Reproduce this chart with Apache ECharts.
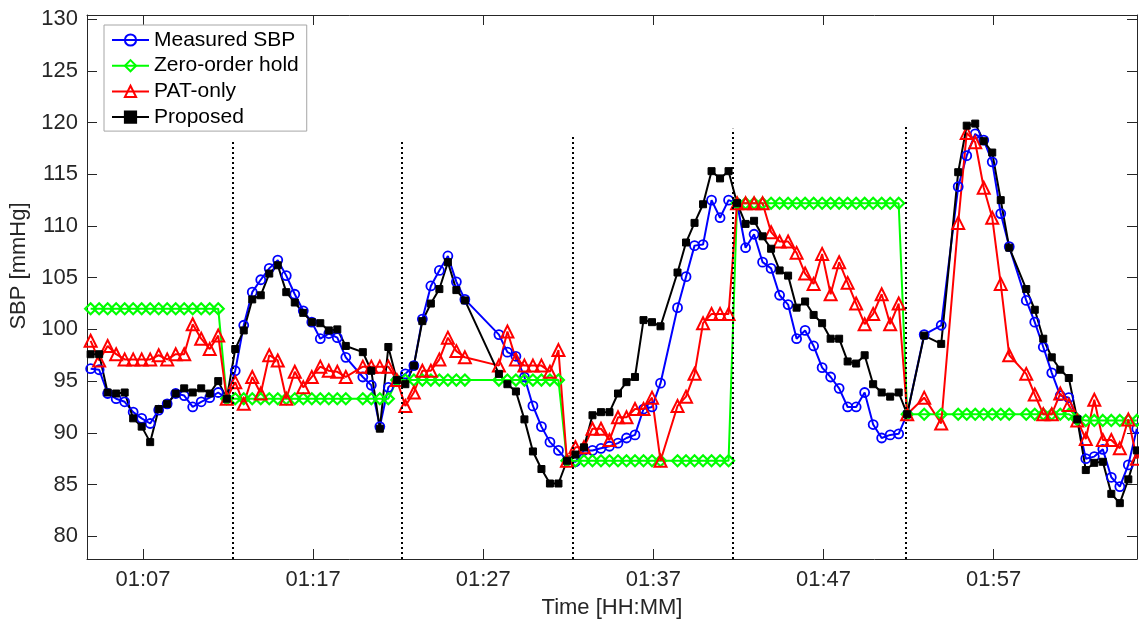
<!DOCTYPE html>
<html>
<head>
<meta charset="utf-8">
<script src="https://cdn.jsdelivr.net/npm/echarts@6/dist/echarts.min.js"></script>
<style>html,body{margin:0;padding:0;background:#fff;}#chart{width:1139px;height:628px;}</style>
</head>
<body>
<div id="chart"></div>
<script>
// sample times, minutes after 01:00
const times = [
  3.92,4.42,4.92,5.42,5.92,6.42,6.92,7.42,7.92,8.42,8.92,9.42,9.92,10.42,10.92,11.42,11.92,
  12.42,12.92,13.42,13.92,14.42,14.92,15.42,15.92,16.42,16.92,17.42,17.92,18.42,18.92,
  19.92,20.42,20.92,21.42,21.92,22.42,22.92,23.42,23.92,24.42,24.92,25.42,25.92,
  27.92,28.42,28.92,29.42,29.92,30.42,30.92,31.42,31.92,32.42,32.92,33.42,33.92,34.42,34.92,35.42,35.92,36.42,36.92,37.42,
  38.42,38.92,39.42,39.92,40.42,40.92,41.42,41.92,42.42,42.92,43.42,43.92,44.42,44.92,45.42,45.92,46.42,46.92,47.42,47.92,48.42,48.92,49.42,49.92,50.42,50.92,51.42,51.92,
  52.92,53.92,
  54.92,55.42,55.92,56.42,56.92,57.42,57.92,
  58.92,59.42,59.92,60.42,60.92,61.42,61.92,62.42,62.92,63.42,63.92,64.42,64.92,65.42
];
const measuredSBP = [
  96.2,96.1,93.8,93.3,93.0,92.0,91.4,90.9,92.2,92.8,93.8,93.6,92.5,93.0,93.4,93.9,93.3,
  96.0,100.4,103.6,104.8,105.9,106.7,105.2,103.4,101.8,100.7,99.1,99.6,99.2,97.3,
  95.4,94.6,90.6,94.4,95.1,95.7,96.5,101.0,104.2,105.7,107.1,104.6,102.9,
  99.5,97.8,97.4,95.4,92.6,90.6,89.1,88.3,87.3,87.2,88.3,88.3,88.5,88.7,89.0,89.5,89.8,92.3,92.5,94.8,
  102.1,105.1,108.1,108.2,112.5,110.8,112.5,112.2,107.9,109.2,106.5,105.9,103.3,102.4,99.1,99.9,98.4,96.3,95.4,94.3,92.5,92.5,93.9,90.8,89.5,89.8,89.9,91.8,
  99.5,100.4,
  113.8,116.8,118.9,118.3,116.2,111.2,108.0,
  102.8,100.7,98.3,95.8,93.6,93.4,91.3,87.5,87.7,88.4,85.7,84.8,86.9,90.4
];
const zeroOrderHold = [
  102,102,102,102,102,102,102,102,102,102,102,102,102,102,102,102,93.3,
  93.3,93.3,93.3,93.3,93.3,93.3,93.3,93.3,93.3,93.3,93.3,93.3,93.3,93.3,
  93.3,93.3,93.3,93.3,95.1,95.1,95.1,95.1,95.1,95.1,95.1,95.1,95.1,
  95.1,95.1,95.1,95.1,95.1,95.1,95.1,95.1,87.3,87.3,87.3,87.3,87.3,87.3,87.3,87.3,87.3,87.3,87.3,87.3,
  87.3,87.3,87.3,87.3,87.3,87.3,87.3,112.2,112.2,112.2,112.2,112.2,112.2,112.2,112.2,112.2,112.2,112.2,112.2,112.2,112.2,112.2,112.2,112.2,112.2,112.2,112.2,91.8,
  91.8,91.8,
  91.8,91.8,91.8,91.8,91.8,91.8,91.8,
  91.8,91.8,91.8,91.8,91.8,91.8,91.3,91.2,91.2,91.2,91.2,91.2,91.2,91.2
];
const patOnly = [
  98.9,97.0,98.4,97.6,97.1,97.1,97.1,97.1,97.5,97.1,97.6,97.6,100.5,99.1,98.1,99.4,93.3,
  94.9,92.8,95.4,93.8,97.5,97.0,93.3,95.9,94.4,95.4,96.4,96.0,95.9,95.4,
  96.4,96.4,96.4,96.4,95.1,92.6,93.9,96.0,96.0,97.1,99.2,97.9,97.3,
  96.5,99.8,97.1,96.5,96.5,96.5,95.9,98.0,87.3,88.6,88.6,90.4,90.4,89.3,91.5,91.5,92.3,92.3,93.4,87.3,
  92.6,93.5,95.7,100.6,101.5,101.5,101.5,112.2,112.2,112.2,112.2,109.4,108.5,108.5,107.4,105.4,104.4,107.3,103.4,106.5,104.5,102.5,100.5,101.5,103.4,100.5,102.5,91.8,
  93.4,90.9,
  110.3,119.0,118.1,113.7,110.8,104.4,97.5,
  95.7,93.7,91.8,91.8,93.8,92.7,91.2,89.4,93.2,89.3,89.3,88.5,91.3,87.5
];
const proposed = [
  97.6,97.6,93.9,93.8,93.9,91.4,90.6,89.1,92.3,92.8,93.8,94.3,93.9,94.3,93.8,95.0,93.3,
  98.1,99.9,102.9,103.3,105.4,106.2,103.6,102.6,101.6,100.7,100.6,99.9,100.0,98.4,
  97.8,96.0,90.4,98.3,95.1,94.7,96.5,100.8,102.5,103.9,106.5,103.8,102.8,
  95.7,94.7,94.0,91.3,88.2,86.5,85.1,85.1,87.3,87.9,88.6,91.7,92.0,92.0,93.8,94.9,95.4,100.9,100.7,100.3,
  105.5,108.4,110.3,112.1,115.3,114.6,115.3,112.2,110.2,110.5,109.0,107.8,105.7,105.2,102.1,102.7,101.4,100.6,99.1,99.1,96.9,96.7,97.5,94.7,93.9,93.5,93.9,91.8,
  99.4,98.6,
  115.2,119.7,119.9,118.2,117.1,112.5,107.9,
  103.9,101.9,99.1,97.3,96.1,95.3,91.3,86.4,87.1,87.2,84.1,83.2,85.5,88.3
];
// calibration instants (dotted lines), minutes after 01:00, and their upper ends
const calibTimes = [12.27, 22.22, 32.24, 41.69, 51.82];
const calibTops = [118.2, 118.2, 118.9, 119.4, 119.8];
const xTickMinutes = [7, 17, 27, 37, 47, 57];
const yTicks = [80, 85, 90, 95, 100, 105, 110, 115, 120, 125, 130];

const X_MIN = 3.706, X_MAX = 65.43, Y_MIN = 77.8, Y_MAX = 130.4;
const AX = '#262626';
const FONT = '"Liberation Sans", Arial, sans-serif';

function fmtTime(v) {
  const h = 1 + Math.floor(v / 60);
  const m = Math.round(v % 60);
  return String(h).padStart(2, '0') + ':' + String(m).padStart(2, '0');
}
function pairs(vals) { return times.map((t, i) => [t, vals[i]]); }

const chart = echarts.init(document.getElementById('chart'), null, {renderer: 'canvas'});

function mkSeries(name, vals, color, symbol, size, fill, bw) {
  return {
    name: name, type: 'line', data: pairs(vals),
    xAxisIndex: 0, yAxisIndex: 0,
    symbol: symbol, symbolSize: size, showAllSymbol: true,
    lineStyle: {color: color, width: 2},
    itemStyle: {color: fill ? color : 'rgba(255,255,255,0)', borderColor: color, borderWidth: bw},
    emphasis: {disabled: true},
    animation: false
  };
}

const option = {
  animation: false,
  backgroundColor: '#fff',
  textStyle: {fontFamily: FONT},
  grid: {left: 87, right: 2, top: 15, bottom: 69, containLabel: false},
  legend: {
    orient: 'vertical', left: 104, top: 25,
    padding: [4, 8, 3, 7],
    itemWidth: 37, itemHeight: 14, itemGap: 3.7,
    backgroundColor: '#fff', borderColor: '#a6a6a6', borderWidth: 1,
    textStyle: {fontSize: 21, color: '#000', fontFamily: FONT, lineHeight: 22},
    data: ['Measured SBP', 'Zero-order hold', 'PAT-only', 'Proposed']
  },
  xAxis: [{
    type: 'value', position: 'bottom', min: X_MIN, max: X_MAX,
    name: 'Time [HH:MM]', nameLocation: 'middle', nameGap: 38,
    nameTextStyle: {fontSize: 22, color: AX, fontFamily: FONT},
    axisLine: {show: true, lineStyle: {color: AX, width: 1}},
    axisTick: {show: true, inside: true, length: 10, customValues: xTickMinutes, lineStyle: {color: AX}},
    axisLabel: {show: true, customValues: xTickMinutes, formatter: fmtTime, fontSize: 22, color: AX, margin: 10, fontFamily: FONT},
    splitLine: {show: false}
  }, {
    type: 'value', position: 'top', min: X_MIN, max: X_MAX,
    axisLine: {show: true, onZero: false, lineStyle: {color: AX, width: 1}},
    axisTick: {show: true, inside: true, length: 10, customValues: xTickMinutes, lineStyle: {color: AX}},
    axisLabel: {show: false},
    splitLine: {show: false}
  }],
  yAxis: [{
    type: 'value', position: 'left', min: Y_MIN, max: Y_MAX,
    name: 'SBP [mmHg]', nameLocation: 'middle', nameGap: 52,
    nameTextStyle: {fontSize: 22, color: AX, fontFamily: FONT, padding: [0, 0, 0, 42]},
    axisLine: {show: true, lineStyle: {color: AX, width: 1}},
    axisTick: {show: true, inside: true, length: 10, customValues: yTicks, lineStyle: {color: AX}},
    axisLabel: {show: true, customValues: yTicks, fontSize: 22, color: AX, margin: 9, fontFamily: FONT},
    splitLine: {show: false}
  }, {
    type: 'value', position: 'right', min: Y_MIN, max: Y_MAX,
    axisLine: {show: true, onZero: false, lineStyle: {color: AX, width: 1}},
    axisTick: {show: true, inside: true, length: 10, customValues: yTicks, lineStyle: {color: AX}},
    axisLabel: {show: false},
    splitLine: {show: false}
  }],
  series: [
    mkSeries('Measured SBP', measuredSBP, '#0000ff', 'circle', 9, false, 1.8),
    mkSeries('Zero-order hold', zeroOrderHold, '#00ff00', 'diamond', 11, false, 2.2),
    mkSeries('PAT-only', patOnly, '#ff0000', 'triangle', 12, false, 2),
    mkSeries('Proposed', proposed, '#000000', 'rect', 7, true, 1),
    {
      name: 'calibration', type: 'line', data: [], xAxisIndex: 0, yAxisIndex: 0,
      markLine: {
        silent: true, symbol: ['none', 'none'], animation: false,
        label: {show: false},
        lineStyle: {color: '#000', width: 2, type: [2, 3]},
        data: calibTimes.map((t, i) => [{coord: [t, Y_MIN]}, {coord: [t, calibTops[i]]}])
      }
    }
  ]
};
chart.setOption(option);
</script>
</body>
</html>
